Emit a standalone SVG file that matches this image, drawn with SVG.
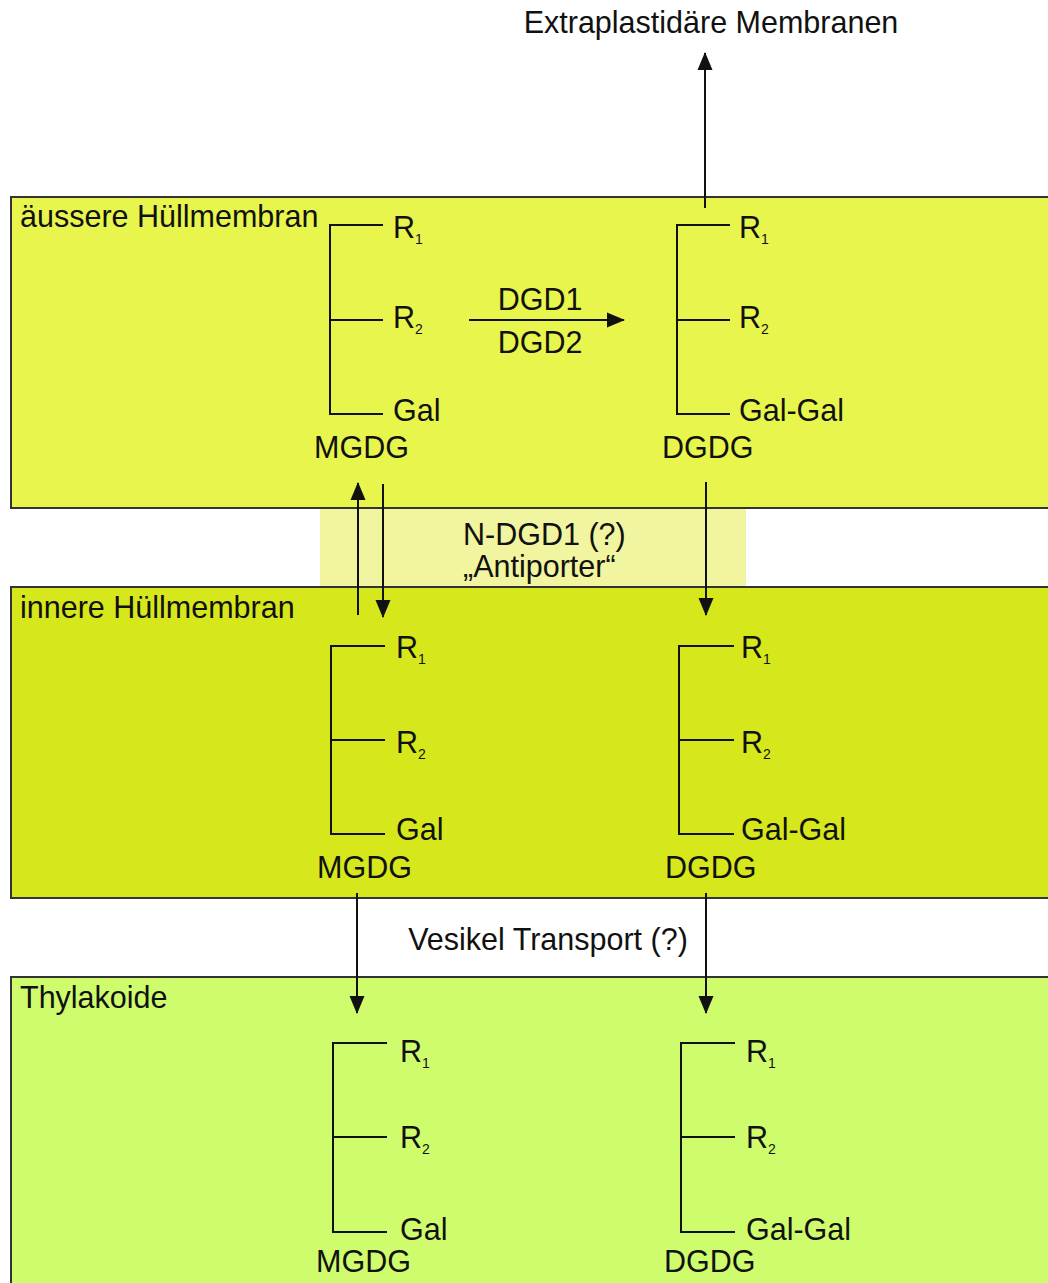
<svg xmlns="http://www.w3.org/2000/svg" width="1048" height="1283" viewBox="0 0 1048 1283">
<style>
text{font-family:"Liberation Sans",Arial,sans-serif;font-size:30.5px;fill:#111}
.sub{font-size:14px}
.box{stroke:#333;stroke-width:2}
.ln{stroke:#111;stroke-width:2;fill:none}
.ar{stroke:#111;stroke-width:2;fill:none;marker-end:url(#ah)}
</style>
<defs>
<marker id="ah" markerUnits="userSpaceOnUse" markerWidth="18" markerHeight="18" viewBox="0 0 18 18" refX="17" refY="9" orient="auto">
<path d="M0,1.5 L18,9 L0,16.5 Z" fill="#111"/>
</marker>
</defs>
<rect width="1048" height="1283" fill="#fff"/>
<g id="transfer-zone">
<rect x="320" y="508" width="426" height="79" fill="#f1f59f"/>
</g>
<g id="outer-membrane">
<rect class="box" x="11" y="197" width="1045" height="311" fill="#e8f54d"/>
<text x="20" y="227">äussere Hüllmembran</text>
</g>
<g id="inner-membrane">
<rect class="box" x="11" y="587" width="1045" height="311" fill="#d6e81c"/>
<text x="20" y="618">innere Hüllmembran</text>
</g>
<g id="thylakoid">
<rect class="box" x="11" y="977" width="1045" height="320" fill="#cffc6c"/>
<text x="20" y="1008">Thylakoide</text>
</g>
<g id="mgdg-outer">
<path class="ln" d="M383,225 H330 V414 H383 M330,320 H383"/>
<text x="393" y="238">R<tspan class="sub" dy="6">1</tspan></text>
<text x="393" y="328">R<tspan class="sub" dy="6">2</tspan></text>
<text x="393" y="421">Gal</text>
<text x="314" y="458">MGDG</text>
</g>
<g id="dgdg-outer">
<path class="ln" d="M730,225 H677 V414 H730 M677,320 H730"/>
<text x="739" y="238">R<tspan class="sub" dy="6">1</tspan></text>
<text x="739" y="328">R<tspan class="sub" dy="6">2</tspan></text>
<text x="739" y="421">Gal-Gal</text>
<text x="662" y="458">DGDG</text>
</g>
<g id="mgdg-inner">
<path class="ln" d="M385,646 H331 V834 H385 M331,740 H385"/>
<text x="396" y="658">R<tspan class="sub" dy="6">1</tspan></text>
<text x="396" y="753">R<tspan class="sub" dy="6">2</tspan></text>
<text x="396" y="840">Gal</text>
<text x="317" y="878">MGDG</text>
</g>
<g id="dgdg-inner">
<path class="ln" d="M734,646 H679 V834 H734 M679,740 H734"/>
<text x="741" y="658">R<tspan class="sub" dy="6">1</tspan></text>
<text x="741" y="753">R<tspan class="sub" dy="6">2</tspan></text>
<text x="741" y="840">Gal-Gal</text>
<text x="665" y="878">DGDG</text>
</g>
<g id="mgdg-thylakoid">
<path class="ln" d="M387,1043 H333 V1232 H387 M333,1137 H387"/>
<text x="400" y="1062">R<tspan class="sub" dy="6">1</tspan></text>
<text x="400" y="1148">R<tspan class="sub" dy="6">2</tspan></text>
<text x="400" y="1240">Gal</text>
<text x="316" y="1272">MGDG</text>
</g>
<g id="dgdg-thylakoid">
<path class="ln" d="M735,1043 H681 V1232 H735 M681,1137 H735"/>
<text x="746" y="1062">R<tspan class="sub" dy="6">1</tspan></text>
<text x="746" y="1148">R<tspan class="sub" dy="6">2</tspan></text>
<text x="746" y="1240">Gal-Gal</text>
<text x="664" y="1272">DGDG</text>
</g>
<g id="labels">
<text x="711" y="33" text-anchor="middle">Extraplastidäre Membranen</text>
<text x="540" y="310" text-anchor="middle">DGD1</text>
<text x="540" y="353" text-anchor="middle">DGD2</text>
<text x="463" y="545">N-DGD1 (?)</text>
<text x="463" y="577">„Antiporter“</text>
<text x="548" y="950" text-anchor="middle">Vesikel Transport (?)</text>
</g>
<g id="connectors">
<path class="ar" d="M705,208 V53"/>
<path class="ar" d="M469,320 H624"/>
<path class="ar" d="M358,615 V483"/>
<path class="ar" d="M383,484 V617"/>
<path class="ar" d="M706,482 V615"/>
<path class="ar" d="M357,893 V1013"/>
<path class="ar" d="M706,893 V1013"/>
</g>
</svg>
